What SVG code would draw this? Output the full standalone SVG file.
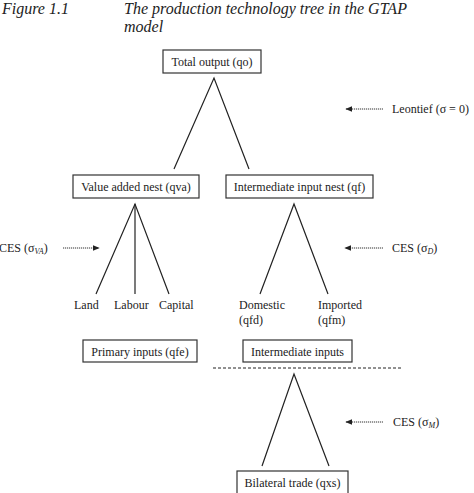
<svg xmlns="http://www.w3.org/2000/svg" width="474" height="493" viewBox="0 0 474 493">
<defs>
<marker id="ah" viewBox="0 0 10 10" refX="9" refY="5" markerWidth="7" markerHeight="7" markerUnits="userSpaceOnUse" orient="auto"><path d="M0,1 L10,5 L0,9 z" fill="#222"/></marker>
<style>
.t{font-family:"Liberation Serif","Times New Roman",serif;font-size:12px;fill:#222}
.ti{font-family:"Liberation Serif","Times New Roman",serif;font-size:16px;font-style:italic;fill:#222}
.box{fill:#fff;stroke:#333;stroke-width:1.2}
.ln{stroke:#222;stroke-width:1.2;fill:none}
.ar{stroke:#333;stroke-width:1;stroke-dasharray:1.2,0.8;fill:none;marker-end:url(#ah)}
.sub{font-size:8px;font-style:italic}
</style>
</defs>
<rect width="474" height="493" fill="#fff"/>
<g id="title">
<text class="ti" x="2" y="14">Figure 1.1</text>
<text class="ti" x="124" y="14">The production technology tree in the GTAP</text>
<text class="ti" x="124" y="32">model</text>
</g>
<g id="connectors">
<polyline class="ln" points="174,169 214,78 249,169"/>
<polyline class="ln" points="96,294 135,204 169,294"/>
<line class="ln" x1="135" y1="204" x2="135" y2="294"/>
<polyline class="ln" points="260,294 294,204 328,294"/>
<polyline class="ln" points="262,466 294,374 329,466"/>
<line x1="213" y1="368" x2="402" y2="368" stroke="#222" stroke-width="1" stroke-dasharray="3,2"/>
<line class="ar" x1="383" y1="109" x2="346" y2="109"/>
<line class="ar" x1="63" y1="248" x2="99" y2="248"/>
<line class="ar" x1="383" y1="248" x2="345" y2="248"/>
<line class="ar" x1="383" y1="422" x2="346" y2="422"/>
</g>
<g id="n-total"><rect class="box" x="163" y="50" width="98" height="23"/><text class="t" x="212" y="66" text-anchor="middle">Total output (qo)</text></g>
<g id="n-va"><rect class="box" x="73" y="175" width="126" height="23"/><text class="t" x="136" y="191" text-anchor="middle">Value added nest (qva)</text></g>
<g id="n-int"><rect class="box" x="226" y="175" width="147" height="23"/><text class="t" x="299.5" y="191" text-anchor="middle">Intermediate input nest (qf)</text></g>
<g id="n-land"><text class="t" x="74" y="309">Land</text></g>
<g id="n-labour"><text class="t" x="114" y="309">Labour</text></g>
<g id="n-capital"><text class="t" x="159" y="309">Capital</text></g>
<g id="n-dom"><text class="t" x="239" y="309">Domestic</text><text class="t" x="239" y="324">(qfd)</text></g>
<g id="n-imp"><text class="t" x="318" y="309">Imported</text><text class="t" x="318" y="324">(qfm)</text></g>
<g id="n-prim"><rect class="box" x="83" y="340" width="114" height="22"/><text class="t" x="140" y="355.5" text-anchor="middle">Primary inputs (qfe)</text></g>
<g id="n-inter"><rect class="box" x="243" y="340" width="109" height="22"/><text class="t" x="297.5" y="355.5" text-anchor="middle">Intermediate inputs</text></g>
<g id="n-bil"><rect class="box" x="237" y="471" width="111" height="23"/><text class="t" x="292.5" y="487" text-anchor="middle">Bilateral trade (qxs)</text></g>
<g id="labels">
<text class="t" x="392" y="113">Leontief  (σ = 0)</text>
<text class="t" x="-1" y="252">CES (σ<tspan class="sub" dy="2">VA</tspan><tspan dy="-2">)</tspan></text>
<text class="t" x="392" y="252">CES  (σ<tspan class="sub" dy="2">D</tspan><tspan dy="-2">)</tspan></text>
<text class="t" x="393" y="426">CES  (σ<tspan class="sub" dy="2">M</tspan><tspan dy="-2">)</tspan></text>
</g>
</svg>
